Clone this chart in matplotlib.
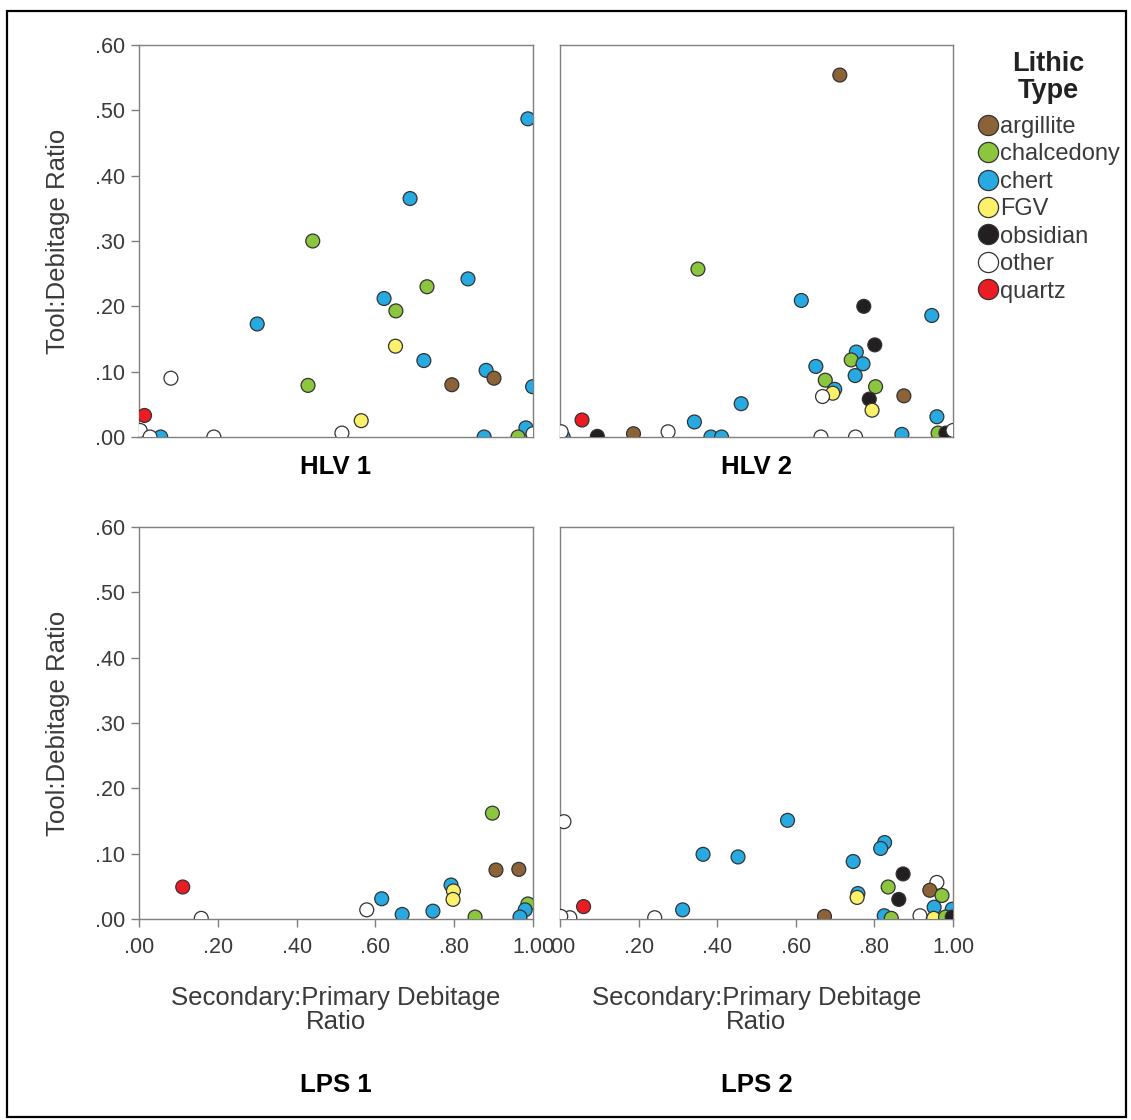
import matplotlib.pyplot as plt
from matplotlib.patches import Rectangle
from matplotlib.lines import Line2D

plt.rcParams['font.family'] = ['Liberation Sans', 'DejaVu Sans']

lithic_types = ["argillite", "chalcedony", "chert", "FGV", "obsidian", "other", "quartz"]
type_colors = {
    "argillite": "#8c6239",
    "chalcedony": "#8cc63f",
    "chert": "#27aae1",
    "FGV": "#fcf16a",
    "obsidian": "#231f20",
    "other": "#ffffff",
    "quartz": "#ec1c24",
}

# secondary:primary debitage ratio (x) and tool:debitage ratio (y), per site
hlv1_type = ["chert", "chert", "chalcedony", "chert", "chalcedony", "chert", "chalcedony",
             "chert", "FGV", "chert", "chert", "argillite", "argillite", "chalcedony",
             "chert", "other", "quartz", "FGV", "chert", "other", "other", "chert",
             "chert", "chalcedony", "other", "other", "other"]
hlv1_x = [0.987, 0.688, 0.441, 0.835, 0.731, 0.622, 0.652, 0.300, 0.651, 0.723, 0.881,
          0.901, 0.794, 0.429, 0.999, 0.081, 0.014, 0.564, 0.982, 0.515, 0.190, 0.055,
          0.876, 0.962, 1.000, 0.003, 0.028]
hlv1_y = [0.487, 0.365, 0.300, 0.242, 0.230, 0.212, 0.193, 0.173, 0.139, 0.117, 0.102,
          0.090, 0.080, 0.079, 0.077, 0.090, 0.033, 0.025, 0.014, 0.006, 0.000, 0.000,
          0.000, 0.000, 0.005, 0.010, 0.000]

hlv2_type = ["argillite", "chalcedony", "chert", "obsidian", "chert", "obsidian", "chert",
             "chalcedony", "chert", "chert", "chert", "chalcedony", "chalcedony", "chert",
             "FGV", "other", "argillite", "obsidian", "FGV", "chert", "chert", "chert",
             "quartz", "other", "argillite", "obsidian", "chert", "chert", "other",
             "other", "chert", "chalcedony", "obsidian", "other", "chert", "other"]
hlv2_x = [0.712, 0.351, 0.614, 0.773, 0.946, 0.801, 0.754, 0.741, 0.771, 0.651, 0.751,
          0.675, 0.803, 0.699, 0.694, 0.668, 0.875, 0.787, 0.794, 0.461, 0.959, 0.342,
          0.056, 0.275, 0.187, 0.095, 0.384, 0.411, 0.664, 0.752, 0.870, 0.962, 0.982,
          1.000, 0.008, 0.003]
hlv2_y = [0.554, 0.257, 0.209, 0.200, 0.186, 0.141, 0.130, 0.118, 0.112, 0.108, 0.094,
          0.087, 0.077, 0.073, 0.067, 0.062, 0.063, 0.058, 0.041, 0.051, 0.031, 0.023,
          0.026, 0.008, 0.005, 0.001, 0.000, 0.000, 0.000, 0.000, 0.004, 0.006, 0.006,
          0.010, 0.000, 0.008]

lps1_type = ["chalcedony", "argillite", "argillite", "quartz", "chert", "FGV", "FGV",
             "chert", "other", "chert", "chert", "chalcedony", "other", "chalcedony",
             "chert", "chert"]
lps1_x = [0.897, 0.906, 0.964, 0.111, 0.792, 0.798, 0.797, 0.616, 0.578, 0.746, 0.668,
          0.853, 0.158, 0.987, 0.980, 0.967]
lps1_y = [0.162, 0.075, 0.076, 0.049, 0.052, 0.043, 0.030, 0.031, 0.014, 0.012, 0.007,
          0.003, 0.001, 0.023, 0.014, 0.003]

lps2_type = ["other", "chert", "chert", "chert", "chert", "chert", "chert", "obsidian",
             "other", "chalcedony", "argillite", "chalcedony", "chert", "FGV", "obsidian",
             "quartz", "chert", "chert", "chert", "other", "other", "argillite", "chert",
             "chalcedony", "other", "FGV", "chalcedony", "obsidian", "other"]
lps2_x = [0.010, 0.579, 0.826, 0.816, 0.364, 0.453, 0.746, 0.873, 0.959, 0.835, 0.941,
          0.972, 0.758, 0.756, 0.862, 0.060, 0.312, 0.952, 0.998, 0.025, 0.241, 0.673,
          0.825, 0.843, 0.916, 0.951, 0.981, 0.998, 0.002]
lps2_y = [0.149, 0.151, 0.117, 0.108, 0.099, 0.095, 0.088, 0.069, 0.056, 0.049, 0.044,
          0.036, 0.039, 0.033, 0.030, 0.019, 0.014, 0.018, 0.015, 0.002, 0.002, 0.004,
          0.005, 0.001, 0.005, 0.001, 0.003, 0.003, 0.004]

sites = [
    ("HLV 1", hlv1_x, hlv1_y, hlv1_type),
    ("HLV 2", hlv2_x, hlv2_y, hlv2_type),
    ("LPS 1", lps1_x, lps1_y, lps1_type),
    ("LPS 2", lps2_x, lps2_y, lps2_type),
]

W, H = 1131, 1120
fig = plt.figure(figsize=(W / 100, H / 100), dpi=100)

# panel boxes in pixels: left, top, right, bottom
boxes = [(139, 45, 533, 437), (560, 45, 953, 437),
         (139, 527, 533, 919), (560, 527, 953, 919)]

axis_grey = "#7f7f7f"
text_grey = "#3a3a3a"
ticks = [0.0, 0.2, 0.4, 0.6, 0.8, 1.0]
yticks = [0.0, 0.1, 0.2, 0.3, 0.4, 0.5, 0.6]


def fmt(v):
    s = f"{v:.2f}"
    return s[1:] if s.startswith("0") else s


for i, ((name, xs, ys, kinds), (l, t, r, b)) in enumerate(zip(sites, boxes)):
    ax = fig.add_axes([l / W, 1 - b / H, (r - l) / W, (b - t) / H])
    ax.scatter(xs, ys, s=100, c=[type_colors[k] for k in kinds],
               edgecolors="#333333", linewidths=0.9, zorder=3)
    ax.set_xlim(0, 1)
    ax.set_ylim(0, 0.6)
    for sp in ax.spines.values():
        sp.set_color(axis_grey)
        sp.set_linewidth(1.0)

    left_col = i % 2 == 0
    bottom_row = i >= 2
    h = b - t

    if left_col:
        ax.set_yticks(yticks)
        ax.set_yticklabels([fmt(v) for v in yticks])
        ax.set_ylabel("Tool:Debitage Ratio", fontsize=18.5, color=text_grey)
        ax.yaxis.set_label_coords((70 - l) / (r - l), 0.5)
    else:
        ax.set_yticks([])

    if bottom_row:
        ax.set_xticks(ticks)
        ax.set_xticklabels([fmt(v) for v in ticks])
        ax.set_xlabel("Secondary:Primary Debitage\nRatio", fontsize=18.5, color=text_grey,
                      linespacing=0.98)
        ax.xaxis.set_label_coords(0.5, (b - 986) / h)
        ax.text(0.5, (b - 1085) / h, name, transform=ax.transAxes,
                ha="center", va="center", fontsize=18.5, fontweight="bold")
    else:
        ax.set_xticks([])
        ax.text(0.5, (b - 467) / h, name, transform=ax.transAxes,
                ha="center", va="center", fontsize=18.5, fontweight="bold")

    ax.tick_params(direction="out", length=6, width=1.0, color=axis_grey,
                   labelsize=15.5, labelcolor=text_grey)
    ax.tick_params(axis="y", pad=4)
    ax.tick_params(axis="x", pad=7)

# legend title and entries
fig.text(1048 / W, 1 - 77.5 / H, "Lithic\nType", ha="center", va="center",
         fontsize=19.5, fontweight="bold", color="#222222", linespacing=1.01)

handles = [Line2D([], [], linestyle="none", marker="o", markersize=14.5,
                  markerfacecolor=type_colors[k], markeredgecolor="#333333",
                  markeredgewidth=0.9) for k in lithic_types]
leg = fig.legend(handles, lithic_types, loc="upper left",
                 bbox_to_anchor=(973 / W, 1 - 116 / H), frameon=False,
                 fontsize=17, borderpad=0, borderaxespad=0,
                 handletextpad=-0.15, labelspacing=0.23, handlelength=1.3)
for txt in leg.get_texts():
    txt.set_color(text_grey)

# outer frame
fig.add_artist(Rectangle((7 / W, 1 - 1117 / H), (1126 - 7) / W, (1117 - 11) / H,
                         transform=fig.transFigure, fill=False, edgecolor="black",
                         linewidth=1.6))

fig.savefig("out.png", dpi=100)
